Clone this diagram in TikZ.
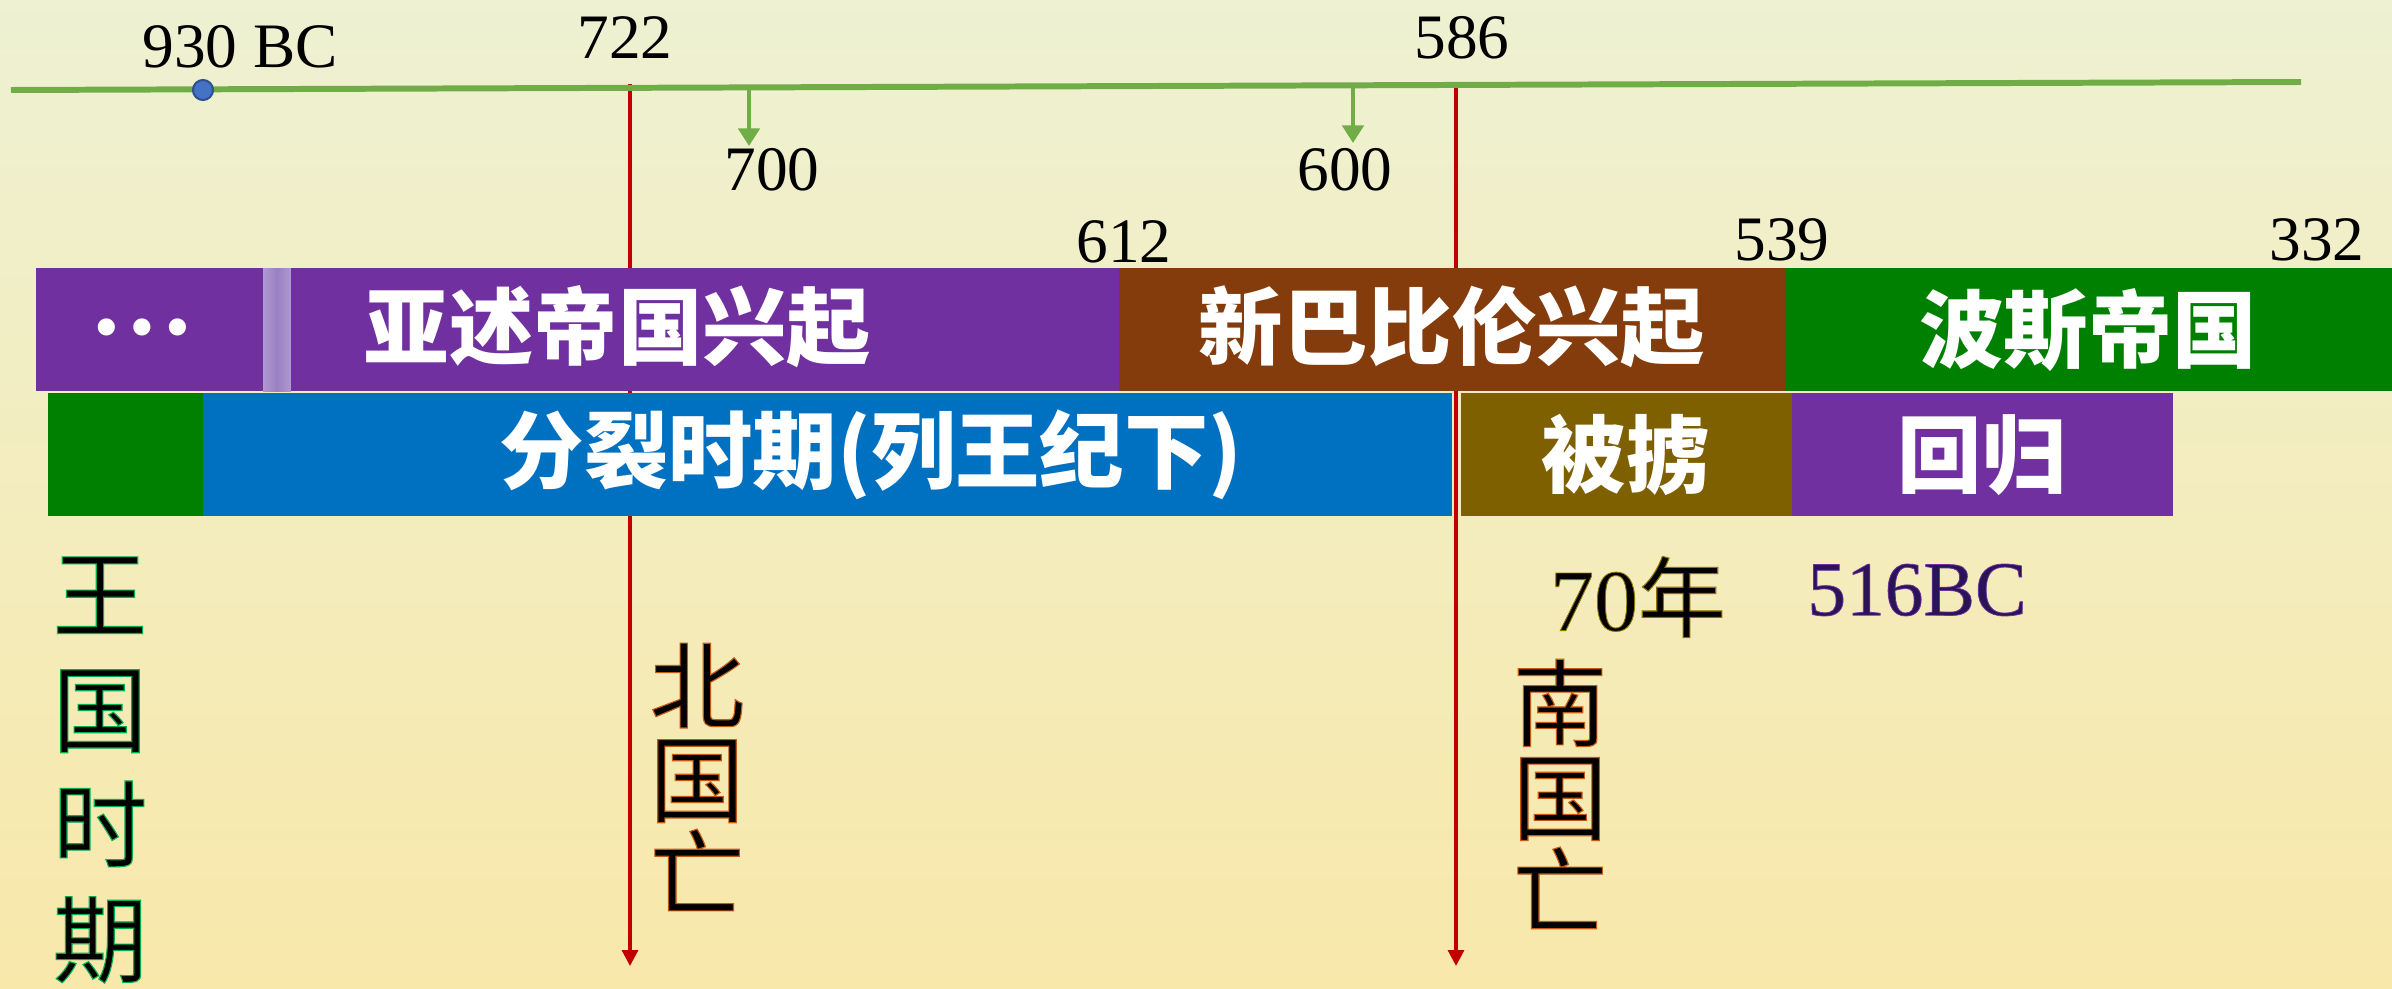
\documentclass[tikz,border=0pt]{standalone}
\usepackage{fontspec}
\setmainfont{Liberation Serif}
\newfontfamily\cjk{Noto Sans CJK SC}
\newfontfamily\cjko{Noto Sans CJK SC}[FakeBold=1.2]
\newfontfamily\sero{Liberation Serif}[FakeBold=1.0]
\usetikzlibrary{arrows.meta}
\lineskiplimit=-100pt
\newcommand{\strokecol}[1]{\special{pdf:literal direct #1 RG}}
\definecolor{bgtop}{HTML}{EEF1D2}
\definecolor{bgmid}{HTML}{FAE3B5}
\definecolor{bgbot}{HTML}{F8E8AA}
\definecolor{mypurple}{HTML}{7030A0}
\definecolor{mybrown}{HTML}{843C0C}
\definecolor{mygreen}{HTML}{008000}
\definecolor{myblue}{HTML}{0070C0}
\definecolor{myolive}{HTML}{7F6000}
\definecolor{myred}{HTML}{C00000}
\definecolor{tlgreen}{HTML}{70AD47}
\definecolor{dotblue}{HTML}{4472C4}
\definecolor{dotdark}{HTML}{2F528F}
\definecolor{lav}{HTML}{B09AD0}
\definecolor{lavdark}{HTML}{8A6FB8}
\definecolor{navyp}{HTML}{2A1458}
\begin{document}
\begin{tikzpicture}[x=0.01cm,y=-0.01cm,
  bar/.style={anchor=north west, inner sep=0pt, outer sep=0pt, minimum height=1.23cm, draw=none},
  num/.style={font=\fontsize{18}{20}\selectfont, inner sep=0pt},
  bartext/.style={text=white, font=\cjk\bfseries\fontsize{24}{28}\selectfont, inner sep=0pt},
  vertlabel/.style={align=center, inner sep=0pt, text=black},
  redline/.style={draw=myred, line width=0.9pt, -{Triangle[length=4.5pt,width=4.5pt]}},
  greenarr/.style={draw=tlgreen, line width=1.2pt, -{Triangle[length=5pt,width=6pt]}},
]
% background
\shade[top color=bgtop, middle color=bgmid, bottom color=bgbot] (0,0) rectangle (2392,988);
\useasboundingbox (0,0) rectangle (2392,988);

% red vertical arrows (behind bars)
\coordinate (r1s) at (630,84);
\coordinate (r1e) at (630,966);
\coordinate (r2s) at (1456,86);
\coordinate (r2e) at (1456,966);
\draw[redline] (r1s) -- (r1e);
\draw[redline] (r2s) -- (r2e);

% timeline
\coordinate (tl0) at (11,90);
\coordinate (tl1) at (2301,82);
\draw[tlgreen, line width=1.7pt] (tl0) -- (tl1);
\node[circle, fill=dotblue, draw=dotdark, line width=0.6pt, minimum size=0.2cm, inner sep=0pt] (d930) at (203,90) {};

% small green arrows
\coordinate (g1s) at (749,89);
\coordinate (g1e) at (749,146);
\coordinate (g2s) at (1353,87);
\coordinate (g2e) at (1353,143);
\draw[greenarr] (g1s) -- (g1e);
\draw[greenarr] (g2s) -- (g2e);

% numbers
\node[num] (n930) at (240,47) {930 BC};
\node[num] (n722) at (625,38) {722};
\node[num] (n586) at (1462,38) {586};
\node[num] (n700) at (772,170) {700};
\node[num] (n600) at (1345,170) {600};
\node[num] (n612) at (1124,242) {612};
\node[num] (n539) at (1782,240) {539};
\node[num] (n332) at (2317,240) {332};

% row 1 bars
\node[bar, fill=mypurple, minimum width=2.27cm] (bdots) at (36,268) {};
\node[bar, left color=lav, right color=lav, middle color=lavdark!60!lav, minimum width=0.28cm] (bstrip) at (263,268) {};
\node[bar, fill=mypurple, minimum width=8.28cm] (basy) at (291,268) {};
\node[bar, fill=mybrown, minimum width=6.67cm] (bbab) at (1119,268) {};
\node[bar, fill=mygreen, minimum width=6.06cm] (bper) at (1786,268) {};

% row 2 bars
\node[bar, fill=mygreen, minimum width=1.55cm] (bking) at (48,393) {};
\node[bar, fill=myblue, minimum width=12.48cm] (bdiv) at (203,393) {};
\node[bar, fill=myolive, minimum width=3.31cm] (bcap) at (1461,393) {};
\node[bar, fill=mypurple, minimum width=3.81cm] (bret) at (1792,393) {};

% bar texts
\node[text=white, inner sep=0pt, font=\bfseries\fontsize{30}{33}\selectfont] (tdots) at (142,327) {…};
\node[bartext] (tasy) at (618,327) {亚述帝国兴起};
\node[bartext] (tbab) at (1452,327) {新巴比伦兴起};
\node[bartext] (tper) at (2088,330) {波斯帝国};
\node[bartext] (tdiv) at (871,455) {分裂时期(列王纪下)};
\node[bartext] (tcap) at (1626,455) {被掳};
\node[bartext] (tret) at (1982,455) {回归};

% lower labels
\node[inner sep=0pt, font=\sero\fontsize{25}{28}\selectfont] (t70) at (1638,597) {\strokecol{0.55 0.45 0.0}70{\cjko 年}};
\node[inner sep=0pt, text=navyp, font=\sero\fontsize{22}{24}\selectfont] (t516) at (1917,590) {\strokecol{0.44 0.19 0.63}516BC};

\node[vertlabel, font=\cjko\fontsize{27}{32.7}\selectfont] (tking) at (100,770) {\strokecol{0 0.69 0.31}王\\\strokecol{0 0.69 0.31}国\\\strokecol{0 0.69 0.31}时\\\strokecol{0 0.69 0.31}期};
\node[vertlabel, font=\cjko\fontsize{27}{26.7}\selectfont] (tnorth) at (697,777) {\strokecol{0.77 0.35 0.07}北\\\strokecol{0.77 0.35 0.07}国\\\strokecol{0.77 0.35 0.07}亡};
\node[vertlabel, font=\cjko\fontsize{27}{26.7}\selectfont] (tsouth) at (1560,794) {\strokecol{0.77 0.35 0.07}南\\\strokecol{0.77 0.35 0.07}国\\\strokecol{0.77 0.35 0.07}亡};
\end{tikzpicture}
\end{document}
